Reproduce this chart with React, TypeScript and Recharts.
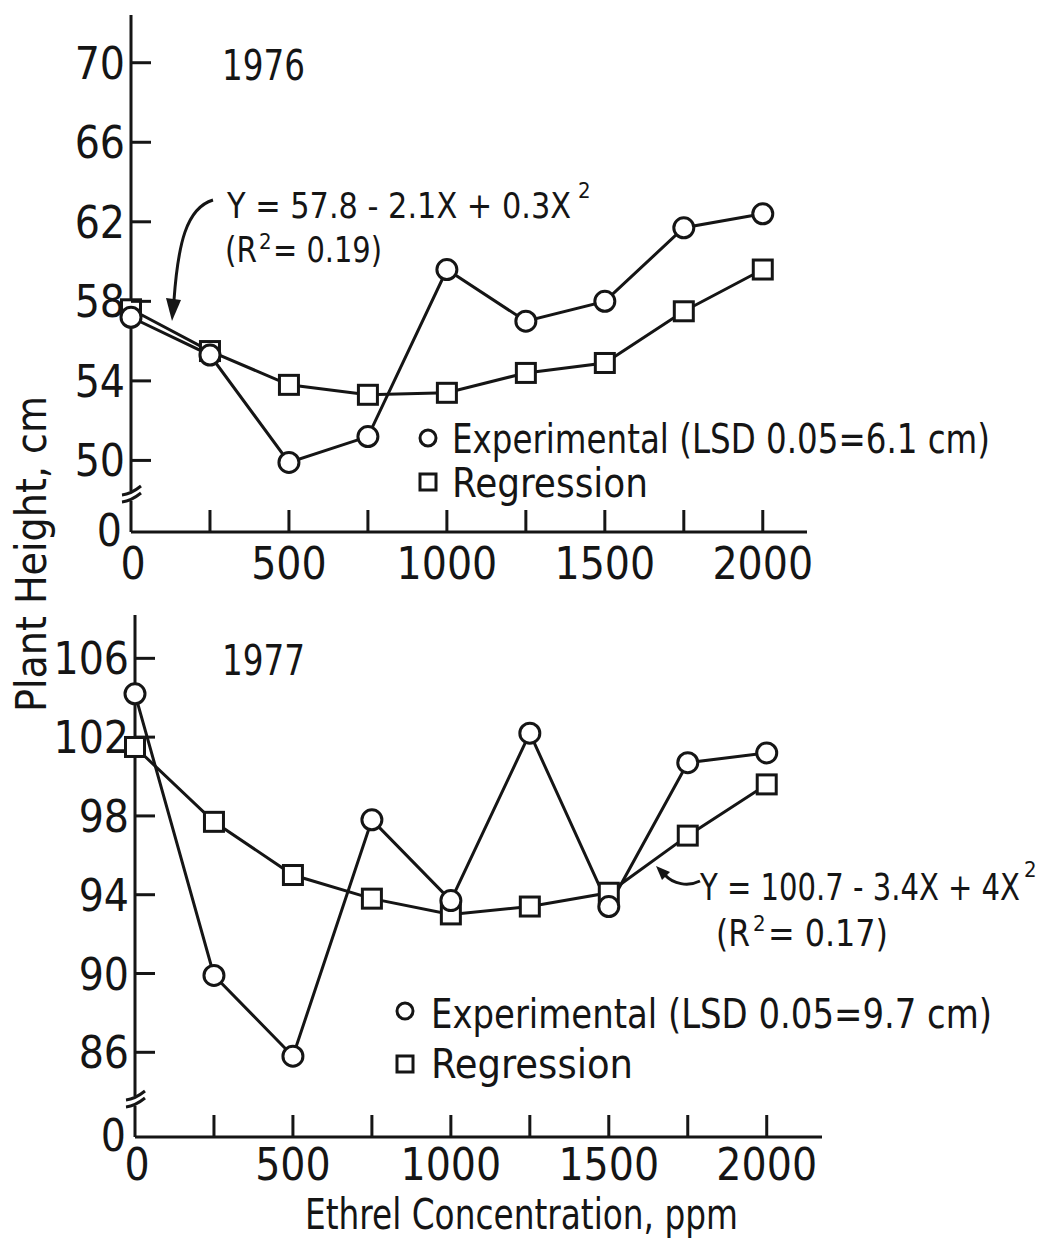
// @ts-nocheck
import React from 'react'
import { LineChart, Line, XAxis, YAxis } from 'recharts'

// Ethrel concentration (ppm) used in both years
const ppm = [0, 250, 500, 750, 1000, 1250, 1500, 1750, 2000]

// 1976 plant height, cm
const exp1976 = [57.2, 55.3, 49.9, 51.2, 59.6, 57.0, 58.0, 61.7, 62.4]
const reg1976 = [57.6, 55.5, 53.8, 53.3, 53.4, 54.4, 54.9, 57.5, 59.6]

// 1977 plant height, cm
const exp1977 = [104.2, 89.9, 85.8, 97.8, 93.7, 102.2, 93.4, 100.7, 101.2]
const reg1977 = [101.5, 97.7, 95.0, 93.8, 93.0, 93.4, 94.1, 97.0, 99.6]

const xTicks = [0, 250, 500, 750, 1000, 1250, 1500, 1750, 2000]
const xLabels = [0, 500, 1000, 1500, 2000]
const yTicks1976 = [50, 54, 58, 62, 66, 70]
const yTicks1977 = [86, 90, 94, 98, 102, 106]

const FONT = "'Liberation Sans Narrow', 'DejaVu Sans Condensed', 'Roboto Condensed', 'Liberation Sans', sans-serif"
const INK = '#151515'

const rows = (exp, reg) => ppm.map((x, i) => ({ ppm: x, exp: exp[i], reg: reg[i] }))

const CircleDot = (p) => {
  if (p.cx == null || p.cy == null) return null
  return <circle key={`c${p.index}`} cx={p.cx} cy={p.cy} r={10} fill="#fff" stroke={INK} strokeWidth={3} />
}

const SquareDot = (p) => {
  if (p.cx == null || p.cy == null) return null
  return <rect key={`s${p.index}`} x={p.cx - 9.5} y={p.cy - 9.5} width={19} height={19} fill="#fff" stroke={INK} strokeWidth={3} />
}

// y ticks: inward tick mark + label, and the "0" with an axis break at the bottom
function YTick({ x, y, payload, min }) {
  if (payload.value === min) {
    return (
      <g>
        <rect x={x - 4} y={y - 41} width={8} height={10} fill="#fff" />
        <path d={`M ${x - 9} ${y - 30} Q ${x} ${y - 31} ${x + 10} ${y - 39}`} stroke={INK} strokeWidth={3} fill="none" />
        <path d={`M ${x - 9} ${y - 37} Q ${x} ${y - 38} ${x + 10} ${y - 46}`} stroke={INK} strokeWidth={3} fill="none" />
        <text x={x - 9} y={y + 14} textAnchor="end" fontSize={44} fontFamily={FONT} fill={INK}>0</text>
      </g>
    )
  }
  return (
    <g>
      <line x1={x} y1={y} x2={x + 20} y2={y} stroke={INK} strokeWidth={3} />
      <text x={x - 6} y={y + 16} textAnchor="end" fontSize={44} fontFamily={FONT} fill={INK}>{payload.value}</text>
    </g>
  )
}

function XTick({ x, y, payload, labelDy }) {
  const v = payload.value
  return (
    <g>
      {v > 0 && <line x1={x} y1={y} x2={x} y2={y - 22} stroke={INK} strokeWidth={3} />}
      {xLabels.includes(v) && (
        <text x={x + (v === 0 ? 2 : 0)} y={y + labelDy} textAnchor="middle" fontSize={44} fontFamily={FONT} fill={INK}>{v}</text>
      )}
    </g>
  )
}

function Panel({ top, height, margin, yAxisWidth, xAxisHeight, yDomain, yTicks, xMax, labelDy, exp, reg }) {
  return (
    <div style={{ position: 'absolute', left: 0, top }}>
      <LineChart width={1043} height={height} data={rows(exp, reg)} margin={margin}>
        <XAxis
          dataKey="ppm"
          type="number"
          domain={[0, xMax]}
          ticks={xTicks}
          interval={0}
          height={xAxisHeight}
          tickLine={false}
          tickSize={0}
          tickMargin={0}
          axisLine={{ stroke: INK, strokeWidth: 3 }}
          tick={(p) => <XTick {...p} labelDy={labelDy} />}
        />
        <YAxis
          type="number"
          domain={yDomain}
          ticks={[yDomain[0], ...yTicks]}
          interval={0}
          width={yAxisWidth}
          tickLine={false}
          tickSize={0}
          tickMargin={0}
          axisLine={{ stroke: INK, strokeWidth: 3 }}
          tick={(p) => <YTick {...p} min={yDomain[0]} />}
        />
        <Line type="linear" dataKey="reg" stroke={INK} strokeWidth={3} dot={SquareDot} activeDot={false} isAnimationActive={false} />
        <Line type="linear" dataKey="exp" stroke={INK} strokeWidth={3} dot={CircleDot} activeDot={false} isAnimationActive={false} />
      </LineChart>
    </div>
  )
}

function T({ x, y, size = 40, len, children, anchor = 'start' }) {
  return (
    <text x={x} y={y} fontSize={size} fontFamily={FONT} fill={INK} textAnchor={anchor}
      textLength={len} lengthAdjust={len ? 'spacingAndGlyphs' : undefined}>
      {children}
    </text>
  )
}

function Notes() {
  return (
    <svg width={1043} height={1244} style={{ position: 'absolute', left: 0, top: 0, pointerEvents: 'none' }}>
      {/* axis titles */}
      <g transform="rotate(-90, 46, 712)">
        <T x={46} y={712} size={42} len={316}>Plant Height, cm</T>
      </g>
      <T x={305} y={1229} size={42} len={433}>Ethrel Concentration, ppm</T>

      {/* 1976 */}
      <T x={222} y={80} size={42} len={83}>1976</T>
      <T x={227} y={218} size={36} len={344}>Y = 57.8 - 2.1X + 0.3X</T>
      <T x={578} y={198} size={22}>2</T>
      <T x={225} y={262} size={36} len={32}>(R</T>
      <T x={259} y={249} size={22}>2</T>
      <T x={273} y={262} size={36} len={109}>= 0.19)</T>
      <path d="M 213 200 C 186 208 178 245 174 300" stroke={INK} strokeWidth={3} fill="none" />
      <polygon points="172,321 166,298 181,300" fill={INK} />

      <circle cx={428} cy={438} r={8} fill="#fff" stroke={INK} strokeWidth={3} />
      <T x={452} y={453} size={40} len={538}>Experimental (LSD 0.05=6.1 cm)</T>
      <rect x={420} y={474} width={16} height={16} fill="#fff" stroke={INK} strokeWidth={3} />
      <T x={452} y={497} size={40} len={196}>Regression</T>

      {/* 1977 */}
      <T x={700} y={900} size={38} len={320}>Y = 100.7 - 3.4X + 4X</T>
      <T x={1024} y={877} size={22}>2</T>
      <T x={716} y={946} size={38} len={34}>(R</T>
      <T x={753} y={931} size={22}>2</T>
      <T x={768} y={946} size={38} len={120}>= 0.17)</T>
      <path d="M 700 881 C 688 887 673 884 665 875" stroke={INK} strokeWidth={3} fill="none" />
      <polygon points="656,866 670,872 662,880" fill={INK} />

      <T x={222} y={675} size={42} len={83}>1977</T>
      <circle cx={405} cy={1011} r={8} fill="#fff" stroke={INK} strokeWidth={3} />
      <T x={431} y={1028} size={40} len={561}>Experimental (LSD 0.05=9.7 cm)</T>
      <rect x={397} y={1056} width={16} height={16} fill="#fff" stroke={INK} strokeWidth={3} />
      <T x={431} y={1078} size={40} len={202}>Regression</T>
    </svg>
  )
}

export default function App() {
  return (
    <div style={{ position: 'absolute', left: 0, top: 0, width: 1043, height: 1244, background: '#fff', overflow: 'hidden' }}>
      <Panel
        top={0}
        height={600}
        margin={{ top: 15, right: 236, bottom: 0, left: 0 }}
        yAxisWidth={131}
        xAxisHeight={68}
        yDomain={[46.4, 72.4]}
        yTicks={yTicks1976}
        xMax={2140}
        labelDy={47}
        exp={exp1976}
        reg={reg1976}
      />
      <Panel
        top={600}
        height={644}
        margin={{ top: 15, right: 221, bottom: 0, left: 0 }}
        yAxisWidth={135}
        xAxisHeight={107}
        yDomain={[81.7, 108.2]}
        yTicks={yTicks1977}
        xMax={2175}
        labelDy={43}
        exp={exp1977}
        reg={reg1977}
      />
      <Notes />
    </div>
  )
}
